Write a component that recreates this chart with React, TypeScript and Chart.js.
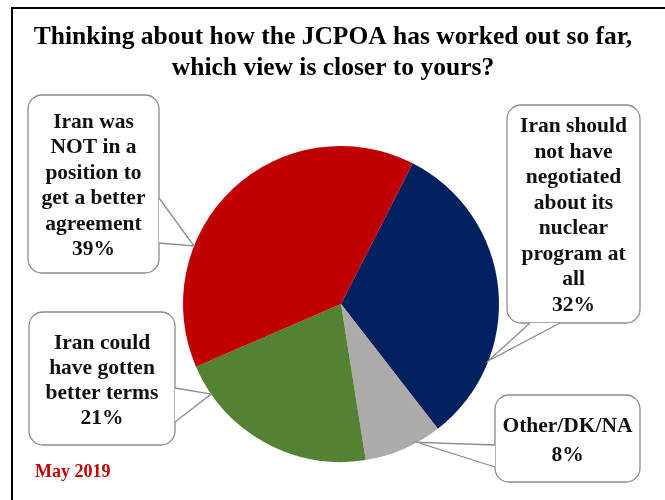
import React, { useEffect, useRef } from "react";
import { Chart, registerables } from "chart.js";

Chart.register(...registerables);

const categories = [
  "Iran should not have negotiated about its nuclear program at all",
  "Other/DK/NA",
  "Iran could have gotten better terms",
  "Iran was NOT in a position to get a better agreement",
];
const values = [32, 8, 21, 39];
const colors = ["#002060", "#AEAAAA", "#548235", "#C00000"];
const labelLines = [
  ["Iran should", "not have", "negotiated", "about its", "nuclear", "program at", "all", "32%"],
  ["Other/DK/NA", "8%"],
  ["Iran could", "have gotten", "better terms", "21%"],
  ["Iran was", "NOT in a", "position to", "get a better", "agreement", "39%"],
];
const titleLines = [
  "Thinking about how the JCPOA has worked out so far,",
  "which view is closer to yours?",
];
const noteText = "May 2019";

// callout layout: box rect, tail base points (on box edge), anchor fraction within slice
const callouts = [
  { x: 507, y: 105, w: 133, h: 218, tail: [[530, 323], [560, 323]], frac: 0.73, lh: 25.5 },
  { x: 495, y: 395, w: 145, h: 87, tail: [[495, 445], [495, 467]], frac: 0.31, lh: 29 },
  { x: 29, y: 312, w: 146, h: 133, tail: [[175, 388], [175, 422]], frac: 0.85, lh: 25 },
  { x: 28, y: 95, w: 131, h: 178, tail: [[159, 198], [159, 243]], frac: 0.32, lh: 25.4 },
];

function roundRect(ctx: CanvasRenderingContext2D, x: number, y: number, w: number, h: number, r: number) {
  ctx.beginPath();
  ctx.moveTo(x + r, y);
  ctx.lineTo(x + w - r, y);
  ctx.arcTo(x + w, y, x + w, y + r, r);
  ctx.lineTo(x + w, y + h - r);
  ctx.arcTo(x + w, y + h, x + w - r, y + h, r);
  ctx.lineTo(x + r, y + h);
  ctx.arcTo(x, y + h, x, y + h - r, r);
  ctx.lineTo(x, y + r);
  ctx.arcTo(x, y, x + r, y, r);
  ctx.closePath();
}

const decorPlugin = {
  id: "decor",
  afterDraw(chart: any) {
    const ctx: CanvasRenderingContext2D = chart.ctx;
    ctx.save();
    // frame
    ctx.strokeStyle = "#000";
    ctx.lineWidth = 2;
    ctx.beginPath();
    ctx.moveTo(12, 510);
    ctx.lineTo(12, 8);
    ctx.lineTo(680, 8);
    ctx.stroke();
    // title
    ctx.fillStyle = "#000";
    ctx.font = "bold 25.5px 'Liberation Serif'";
    ctx.textAlign = "center";
    ctx.textBaseline = "middle";
    ctx.fillText(titleLines[0], 333, 37);
    ctx.fillText(titleLines[1], 333, 68);
    // note
    ctx.fillStyle = "#C00000";
    ctx.font = "bold 18px 'Liberation Serif'";
    ctx.textAlign = "left";
    ctx.fillText(noteText, 35, 472);
    // callouts
    const meta = chart.getDatasetMeta(0);
    callouts.forEach((c, i) => {
      const arc: any = meta.data[i];
      const a = arc.startAngle + (arc.endAngle - arc.startAngle) * c.frac;
      const ax = arc.x + Math.cos(a) * arc.outerRadius;
      const ay = arc.y + Math.sin(a) * arc.outerRadius;
      ctx.lineWidth = 1.3;
      ctx.strokeStyle = "#8c8c8c";
      ctx.fillStyle = "#fff";
      roundRect(ctx, c.x, c.y, c.w, c.h, 14);
      ctx.fill();
      ctx.stroke();
      // tail fill
      ctx.beginPath();
      ctx.moveTo(c.tail[0][0], c.tail[0][1]);
      ctx.lineTo(ax, ay);
      ctx.lineTo(c.tail[1][0], c.tail[1][1]);
      ctx.closePath();
      ctx.fill();
      // tail lines
      ctx.beginPath();
      ctx.moveTo(c.tail[0][0], c.tail[0][1]);
      ctx.lineTo(ax, ay);
      ctx.lineTo(c.tail[1][0], c.tail[1][1]);
      ctx.stroke();
      // text
      const lines = labelLines[i];
      ctx.fillStyle = "#111";
      ctx.font = "bold 21.5px 'Liberation Serif'";
      ctx.textAlign = "center";
      ctx.textBaseline = "middle";
      const cx = c.x + c.w / 2;
      const cy = c.y + c.h / 2 + 2;
      const start = cy - ((lines.length - 1) * c.lh) / 2;
      lines.forEach((t, k) => ctx.fillText(t, cx, start + k * c.lh));
    });
    ctx.restore();
  },
};

export default function App() {
  const ref = useRef<HTMLCanvasElement>(null);
  useEffect(() => {
    document.body.style.margin = "0";
    const chart = new Chart(ref.current!, {
      type: "pie",
      data: {
        labels: categories,
        datasets: [{ data: values, backgroundColor: colors, borderWidth: 0 }],
      },
      options: {
        animation: false,
        responsive: false,
        rotation: 27,
        layout: { padding: { left: 183, right: 166, top: 146, bottom: 38 } },
        plugins: { legend: { display: false }, tooltip: { enabled: false }, title: { display: false } },
      },
      plugins: [decorPlugin],
    });
    return () => chart.destroy();
  }, []);
  return <canvas ref={ref} width={665} height={500} style={{ display: "block" }} />;
}
